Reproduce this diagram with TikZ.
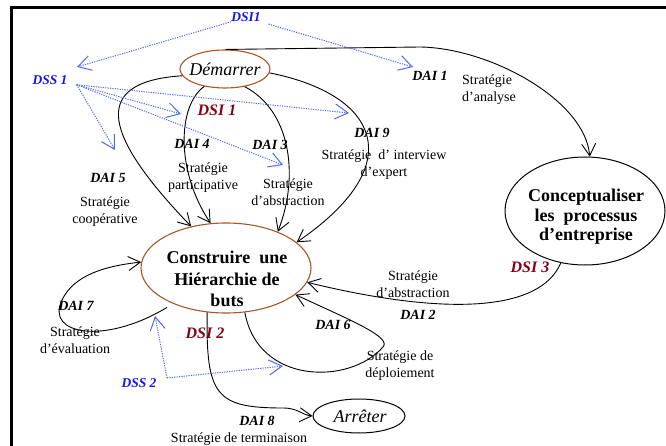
\documentclass[tikz,border=0pt]{standalone}
\usepackage{fontspec}
\setmainfont{Liberation Serif}
\usetikzlibrary{arrows.meta,shapes.geometric}
\definecolor{brownedge}{RGB}{170,85,40}
\definecolor{dsired}{RGB}{135,0,20}
\definecolor{dssblue}{RGB}{20,20,240}
\definecolor{dotblue}{RGB}{80,105,240}
\begin{document}
\begin{tikzpicture}[x=1pt,y=-1pt,
  strat/.style={font=\fontsize{14}{17}\selectfont, align=center, inner sep=0pt},
  dai/.style={font=\fontsize{14}{17}\selectfont\bfseries\itshape, inner sep=0pt},
  dsi/.style={font=\fontsize{16}{18}\selectfont\bfseries\itshape, text=dsired, inner sep=0pt},
  dss/.style={font=\fontsize{13.5}{16}\selectfont\bfseries\itshape, text=dssblue, inner sep=0pt},
  goal/.style={ellipse, draw=brownedge, line width=1.1pt, inner sep=0pt},
  plain goal/.style={ellipse, draw=black, line width=1pt, inner sep=0pt},
  flow/.style={draw=black, line width=0.9pt, -{Straight Barb[length=12pt,width=14pt]}},
  dotflow/.style={draw=dotblue, line width=1pt, dash pattern=on 1.2pt off 1.2pt, -{Straight Barb[length=13pt,width=15pt]}},
]
\useasboundingbox (0,0) rectangle (666,446);
% frame
\draw[line width=3pt] (11.7,470) -- (11.7,7.3) -- (690,7.3);

% main nodes
\node[goal, minimum width=90pt, minimum height=38pt] (dem) at (225,69) {};
\node[font=\fontsize{18}{20}\selectfont\itshape, inner sep=0pt] (demt) at (225,69) {Démarrer};
\node[goal, minimum width=170pt, minimum height=90pt] (con) at (226,268) {};
\node[font=\fontsize{18}{21.5}\selectfont\bfseries, align=center, inner sep=0pt] (cont) at (227,279) {Construire~ une\\Hiérarchie de\\buts};
\node[plain goal, minimum width=160pt, minimum height=108pt] (cpt) at (585,211) {};
\node[font=\fontsize{18}{19.5}\selectfont\bfseries, align=center, inner sep=0pt] (cptt) at (586,217) {Conceptualiser\\les~ processus\\d’entreprise};
\node[plain goal, minimum width=92pt, minimum height=34pt] (arr) at (359,416) {};
\node[font=\fontsize{18}{20}\selectfont\itshape, inner sep=0pt] (arrt) at (360,416) {Arrêter};

% labels
\node[dss] (dsiA) at (246,17) {DSI1};
\node[dss] (dss1) at (50,80) {DSS 1};
\node[dsi] (dsi1) at (217,110) {DSI 1};
\node[dai] (dai1) at (430,76) {DAI 1};
\node[strat, align=left, anchor=west] (sanal) at (462,90) {Stratégie\\d’analyse};
\node[dai] (dai9) at (372,133) {DAI 9};
\node[strat] (sinter) at (384,165) {Stratégie~ d’ interview\\d’expert};
\node[dai] (dai4) at (192,144) {DAI 4};
\node[dai] (dai3) at (270,145) {DAI 3};
\node[strat] (spart) at (203,178) {Stratégie\\participative};
\node[strat] (sabs1) at (288,192) {Stratégie\\d’abstraction};
\node[dai] (dai5) at (108,178) {DAI 5};
\node[strat] (scoop) at (105,212) {Stratégie\\coopérative};
\node[dsi] (dsi3) at (530,267) {DSI 3};
\node[strat] (sabs2) at (413,284) {Stratégie\\d’abstraction};
\node[dai] (dai2) at (418,315) {DAI 2};
\node[dai] (dai6) at (333,325) {DAI 6};
\node[strat] (sdep) at (400,366) {Stratégie de\\déploiement};
\node[dsi] (dsi2) at (205,333) {DSI 2};
\node[dai] (dai7) at (76,306) {DAI 7};
\node[strat] (seval) at (75,340) {Stratégie\\d’évaluation};
\node[dss] (dss2) at (139,383) {DSS 2};
\node[dai] (dai8) at (257,421) {DAI 8};
\node[strat] (sterm) at (239,439) {Stratégie de terminaison};

% black connectors
\draw[flow] (dem.88) -- (420,47) .. controls (490,48) and (585,100) .. (cpt.85);
\draw[flow] (dem.189) .. controls (85,82) and (108,140) .. (con.130);
\draw[flow] (dem.220) .. controls (178,105) and (175,170) .. (con.109);
\draw[flow] (dem.318) .. controls (290,110) and (300,175) .. (con.35);
\draw[flow] (dem.355) .. controls (380,95) and (410,165) .. (con.20);
\draw[flow] (cpt.245) .. controls (540,312) and (445,316) .. (con.-10);
\draw[flow] (con.293) .. controls (258,385) and (350,385) .. (383,347)
  .. controls (392,337) and (350,320) .. (con.-21);
\draw[flow, shorten <=7pt] (con.214) .. controls (105,345) and (45,335) .. (62,300)
  .. controls (74,275) and (105,266) .. (con.176);
\draw[flow] (con.247) .. controls (206,395) and (215,408) .. (283,408)
  .. controls (298,408) and (302,415) .. (arr.west);

% blue dotted connectors
\coordinate (tA) at (77,67);
\coordinate (tB) at (413,67);
\coordinate (fa) at (115,150);
\coordinate (fb) at (181,114);
\coordinate (fc) at (283,165);
\coordinate (fd) at (349,113);
\coordinate (c2) at (167,378);
\coordinate (tu) at (155,316);
\coordinate (tr) at (283,366);
\draw[dotflow] (dsiA.south west) -- (tA);
\draw[dotflow, shorten <=8pt] (dsiA.south east) -- (tB);
\draw[dotflow] ([xshift=9pt]dss1.south east) -- (fa);
\draw[dotflow] ([xshift=9pt]dss1.south east) -- (fb);
\draw[dotflow] ([xshift=9pt]dss1.south east) -- (fc);
\draw[dotflow] ([xshift=9pt]dss1.south east) -- (fd);
\draw[dotflow] (c2) -- (tu);
\draw[dotflow] (c2) -- (tr);
\end{tikzpicture}
\end{document}
